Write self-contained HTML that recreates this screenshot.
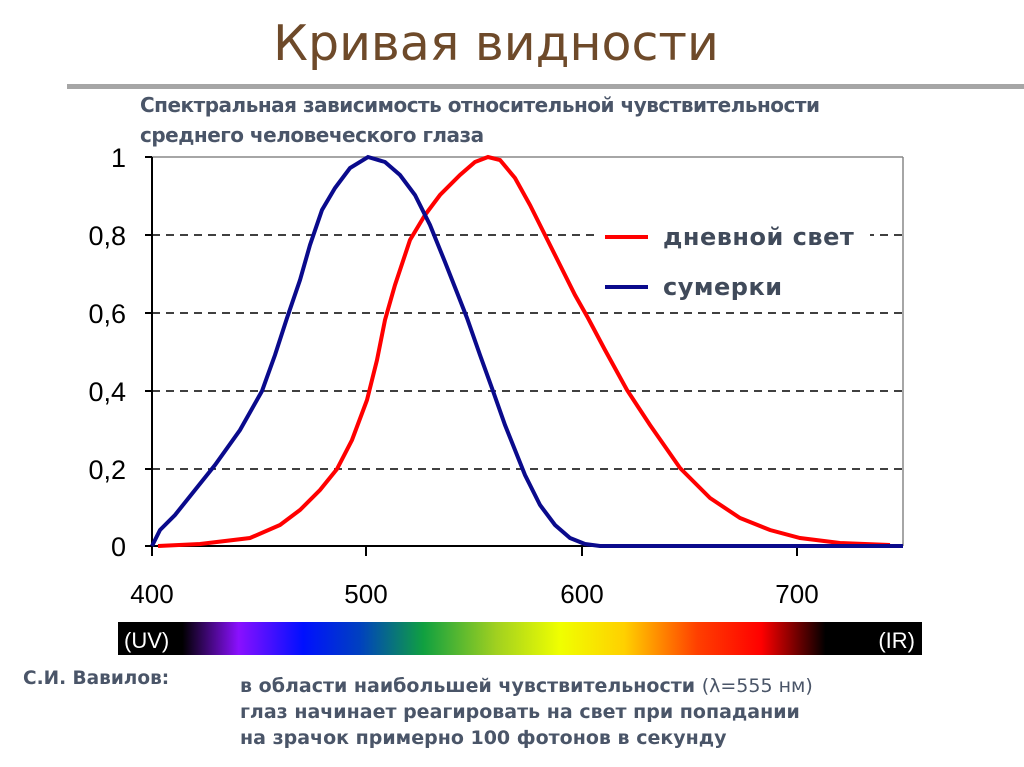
<!DOCTYPE html>
<html><head><meta charset="utf-8"><style>
body{margin:0;width:1024px;height:767px;background:#fff;overflow:hidden;position:relative;font-family:"Liberation Sans","DejaVu Sans",sans-serif}
.t{position:absolute;white-space:nowrap}
</style></head><body>
<div class="t" style="left:0;width:992px;text-align:center;top:15px;font-size:49px;color:#6e4a2a;font-family:'DejaVu Sans','Liberation Sans',sans-serif">Кривая видности</div>
<div style="position:absolute;left:67px;top:84px;width:957px;height:5px;background:#a6a6a6"></div>
<div class="t" style="left:140px;top:90px;font-size:20px;font-weight:bold;color:#4a5568;line-height:30px;font-family:'DejaVu Sans',sans-serif;letter-spacing:-0.5px">Спектральная зависимость относительной чувствительности<br>среднего человеческого глаза</div>
<svg width="1024" height="767" style="position:absolute;left:0;top:0">
<defs><linearGradient id="sp" x1="0" x2="1">
<stop offset="0" stop-color="#000"/><stop offset="0.08" stop-color="#000"/><stop offset="0.15" stop-color="#8a10ff"/><stop offset="0.23" stop-color="#0010ff"/><stop offset="0.3" stop-color="#0040c0"/><stop offset="0.38" stop-color="#10a040"/><stop offset="0.47" stop-color="#a0d020"/><stop offset="0.55" stop-color="#f0ff00"/><stop offset="0.63" stop-color="#ffd000"/><stop offset="0.72" stop-color="#ff4000"/><stop offset="0.8" stop-color="#ff0000"/><stop offset="0.88" stop-color="#000"/><stop offset="1" stop-color="#000"/></linearGradient></defs>
<line x1="152" y1="157" x2="903" y2="157" stroke="#888" stroke-width="1.5"/>
<line x1="903" y1="157" x2="903" y2="546" stroke="#888" stroke-width="1.5"/>
<g stroke="#000" stroke-width="1.5" stroke-dasharray="8,6">
<line x1="152" y1="235" x2="903" y2="235"/><line x1="152" y1="313" x2="903" y2="313"/><line x1="152" y1="391" x2="903" y2="391"/><line x1="152" y1="469" x2="903" y2="469"/></g>
<g stroke="#000" stroke-width="2"><line x1="152" y1="157" x2="152" y2="556"/><line x1="145" y1="546" x2="903" y2="546"/>
<line x1="145" y1="157" x2="152" y2="157"/><line x1="145" y1="235" x2="152" y2="235"/><line x1="145" y1="313" x2="152" y2="313"/><line x1="145" y1="391" x2="152" y2="391"/><line x1="145" y1="469" x2="152" y2="469"/>
<line x1="366" y1="546" x2="366" y2="556"/><line x1="582" y1="546" x2="582" y2="556"/><line x1="797" y1="546" x2="797" y2="556"/></g>
<g font-size="27" fill="#000" text-anchor="end" font-family="Liberation Sans Narrow,Liberation Sans,sans-serif">
<text x="126" y="167">1</text><text x="126" y="245">0,8</text><text x="126" y="323">0,6</text><text x="126" y="401">0,4</text><text x="126" y="479">0,2</text><text x="126" y="556">0</text></g>
<g font-size="26" fill="#000" text-anchor="middle"><text x="152" y="603">400</text><text x="366" y="603">500</text><text x="582" y="603">600</text><text x="797" y="603">700</text></g>
<polyline fill="none" stroke="#ff0000" stroke-width="4" points="158,546 200,544 250,538 280,525 300,510 320,490 337,469 352,440 367,400 377,360 385,320 395,285 410,240 425,215 440,195 460,175 475,162 488,157 500,160 515,178 530,205 545,235 560,265 575,295 588,318 605,350 627,390 650,425 680,468 710,498 740,518 770,530 800,538 840,543 890,545"/>
<polyline fill="none" stroke="#0a0a8c" stroke-width="4" points="152,546 160,530 175,515 195,490 215,465 240,430 262,391 275,355 287,318 300,280 310,245 322,210 335,188 350,168 368,157 385,162 400,175 415,195 430,225 445,262 458,295 467,318 480,355 493,391 505,425 515,450 525,475 540,505 555,525 570,538 585,544 600,546 903,546"/>
<rect x="600" y="218" width="270" height="90" fill="#fff"/>
<line x1="605" y1="237" x2="648" y2="237" stroke="#ff0000" stroke-width="4"/>
<line x1="605" y1="287" x2="648" y2="287" stroke="#0a0a8c" stroke-width="4"/>
<g font-size="24" font-weight="bold" fill="#404a5a" font-family="DejaVu Sans,sans-serif" letter-spacing="0.5"><text x="663" y="245">дневной свет</text><text x="663" y="295">сумерки</text></g>
<rect x="118" y="622" width="804" height="33" fill="url(#sp)"/>
<text x="124" y="648" font-size="22" fill="#fff">(UV)</text><text x="915" y="648" font-size="22" fill="#fff" text-anchor="end">(IR)</text>
</svg>
<div class="t" style="left:23px;top:668px;font-size:18.5px;font-weight:bold;color:#4a5568;font-family:'DejaVu Sans',sans-serif">С.И. Вавилов:</div>
<div class="t" style="left:240px;top:673px;font-size:19px;font-weight:bold;color:#4a5568;line-height:26px;font-family:'DejaVu Sans',sans-serif">в области наибольшей чувствительности <span style="font-weight:normal">(λ=555 нм)</span><br>глаз начинает реагировать на свет при попадании<br>на зрачок примерно 100 фотонов в секунду</div>
</body></html>
